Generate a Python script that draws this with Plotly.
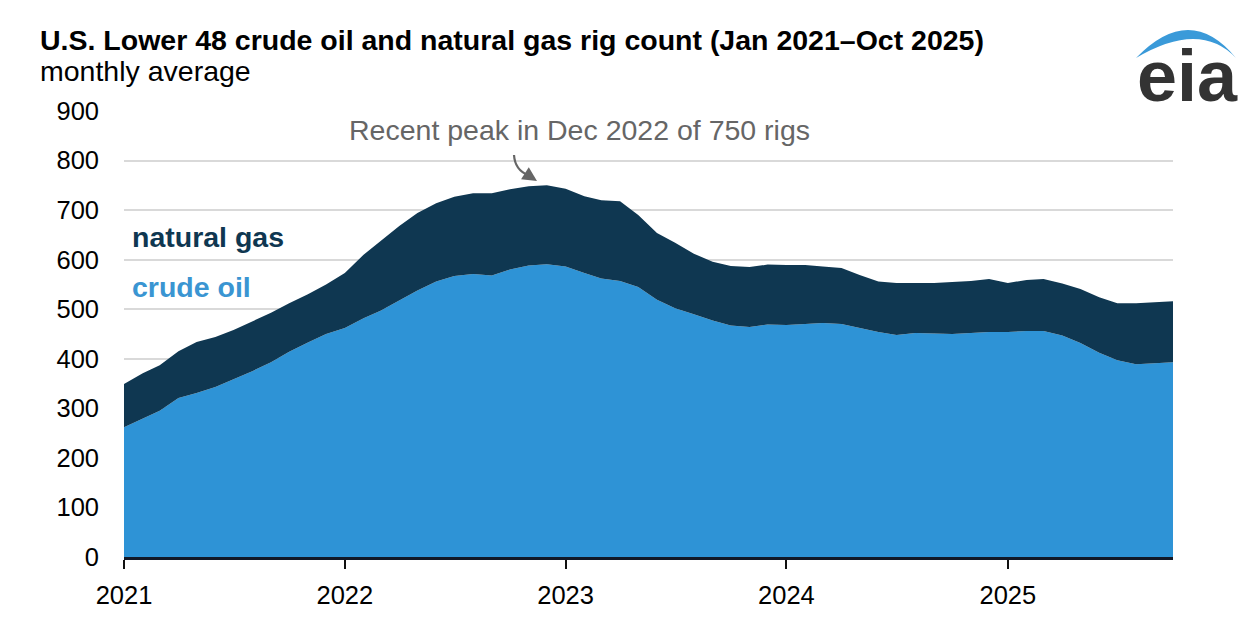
import plotly.graph_objects as go
import pandas as pd

# Monthly dates Jan 2021 - Oct 2025
months = [d.strftime("%Y-%m-%d") for d in pd.date_range("2021-01-01", "2025-10-01", freq="MS")]

# Total rigs (crude oil + natural gas), monthly average
total_rigs = [
    349, 371, 387, 415, 434, 444, 458, 475, 493, 512, 530, 550,
    573, 610, 638, 668, 694, 714, 727, 734, 734, 742, 748, 750,
    743, 728, 720, 718, 690, 654, 634, 612, 596, 587, 585, 590,
    589, 589, 586, 583, 569, 556, 553, 553, 553, 555, 557, 561,
    553, 559, 561, 552, 541, 524, 512, 512, 514, 516,
]
crude_oil = [
    262, 280, 295, 321, 331, 343, 358, 375, 393, 414, 433, 450,
    462, 482, 497, 518, 538, 556, 567, 571, 568, 580, 588, 591,
    586, 573, 562, 557, 545, 519, 502, 490, 477, 467, 464, 469,
    468, 470, 472, 470, 462, 454, 448, 452, 451, 450, 452, 454,
    454, 456, 456, 447, 432, 412, 397, 389, 391, 393,
]
natural_gas = [t - c for t, c in zip(total_rigs, crude_oil)]

year_ticks = ["2021-01-01", "2022-01-01", "2023-01-01", "2024-01-01", "2025-01-01"]
year_labels = ["2021", "2022", "2023", "2024", "2025"]
y_ticks = [0, 100, 200, 300, 400, 500, 600, 700, 800, 900]

OIL = "#2E93D6"
GAS = "#0F3751"
FONT = "Liberation Sans, Arial, sans-serif"

fig = go.Figure()
fig.add_trace(go.Scatter(
    x=months, y=crude_oil, name="crude oil", stackgroup="rigs",
    mode="lines", line=dict(width=0, color=OIL), fillcolor=OIL,
))
fig.add_trace(go.Scatter(
    x=months, y=natural_gas, name="natural gas", stackgroup="rigs",
    mode="lines", line=dict(width=0, color=GAS), fillcolor=GAS,
))

W, H = 1260, 628
OFF = 8  # page body margin
L, R, T, B = 124 - OFF, 87 + OFF, 111 - OFF, 71 + OFF
pw, ph = W - L - R, H - T - B

# convert reference-screenshot pixel positions into paper coordinates
def px(x):
    return (x - OFF - L) / pw

def py(y):
    return (H - B - (y - OFF)) / ph

annotations = []

# Title and subtitle
annotations.append(dict(
    x=px(38), y=py(40), xref="paper", yref="paper", xanchor="left", yanchor="middle",
    text="<b>U.S. Lower 48 crude oil and natural gas rig count (Jan 2021–Oct 2025)</b>",
    showarrow=False, font=dict(family=FONT, size=28.5, color="#000000"),
))
annotations.append(dict(
    x=px(38), y=py(71), xref="paper", yref="paper", xanchor="left", yanchor="middle",
    text="monthly average", showarrow=False, font=dict(family=FONT, size=28.5, color="#000000"),
))

# series labels
annotations.append(dict(
    x=px(130), y=py(237), xref="paper", yref="paper", xanchor="left", yanchor="middle",
    text="<b>natural gas</b>", showarrow=False, font=dict(family=FONT, size=28.5, color=GAS),
))
annotations.append(dict(
    x=px(130), y=py(287), xref="paper", yref="paper", xanchor="left", yanchor="middle",
    text="<b>crude oil</b>", showarrow=False, font=dict(family=FONT, size=28.5, color="#3A95D2"),
))

# peak annotation
annotations.append(dict(
    x=px(579), y=py(130), xref="paper", yref="paper", xanchor="center", yanchor="middle",
    text="Recent peak in Dec 2022 of 750 rigs", showarrow=False,
    font=dict(family=FONT, size=28.5, color="#666666"),
))
annotations.append(dict(
    x=px(537), y=py(181), xref="paper", yref="paper", ax=-11, ay=-7,
    text="", showarrow=True, arrowhead=2,
    arrowsize=1.3, arrowwidth=2.2, arrowcolor="#666666",
))

# eia logo text
annotations.append(dict(
    x=px(1187), y=py(76), xref="paper", yref="paper", xanchor="center", yanchor="middle",
    text="<b>eia</b>", showarrow=False, font=dict(family=FONT, size=72, color="#333333"),
))

shapes = [
    # curved part of the arrow
    dict(type="path", xref="paper", yref="paper",
         path=f"M {px(514)},{py(155)} Q {px(515)},{py(170)} {px(528)},{py(175)}",
         line=dict(color="#666666", width=2.2)),
    # eia swoosh
    dict(type="path", xref="paper", yref="paper",
         path=(f"M {px(1136)},{py(58)} Q {px(1190)},{py(2)} {px(1236)},{py(58)} "
               f"Q {px(1200)},{py(20)} {px(1136)},{py(58)} Z"),
         fillcolor="#3A9AD9", line=dict(width=0)),
]

fig.update_layout(
    width=W, height=H,
    margin=dict(l=L, r=R, t=T, b=B),
    plot_bgcolor="white", paper_bgcolor="white",
    showlegend=False,
    annotations=annotations,
    shapes=shapes,
    font=dict(family=FONT, size=22, color="#000000"),
    xaxis=dict(
        type="date", range=["2021-01-01", "2025-10-01"],
        tickvals=year_ticks, ticktext=year_labels,
        ticks="outside", ticklen=9, tickwidth=2, tickcolor="#111111",
        showline=True, linecolor="#111827", linewidth=2.5,
        showgrid=False, tickfont=dict(family=FONT, size=25.5, color="#000000"),
        ticklabelstandoff=5,
        zeroline=False,
    ),
    yaxis=dict(
        range=[0, 900], tickvals=y_ticks,
        tickfont=dict(family=FONT, size=25.5, color="#000000"),
        ticklabelstandoff=24,
        showgrid=True, gridcolor="#D9D9D9", gridwidth=1.5,
        zeroline=False, ticks="",
    ),
)

fig.write_html("out.html")
